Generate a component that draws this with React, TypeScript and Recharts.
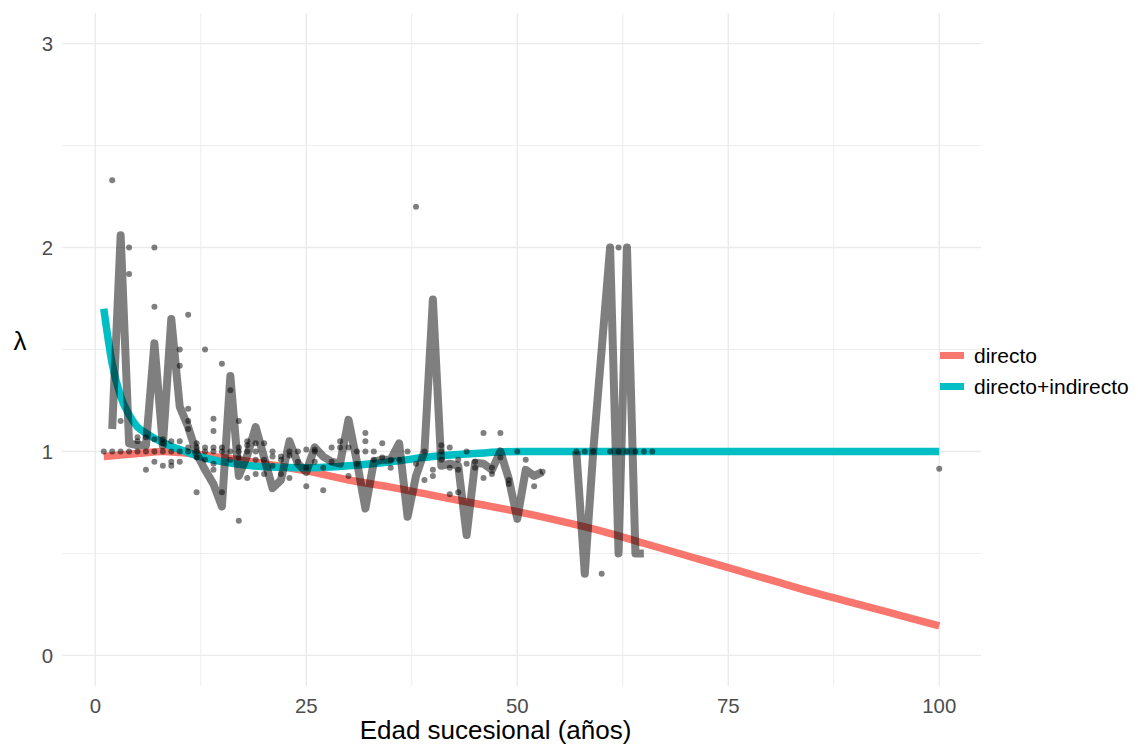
import React from 'react';
import { ComposedChart, Line, Scatter, XAxis, YAxis, CartesianGrid } from 'recharts';

const FONT = '"Liberation Sans", Arial, Helvetica, sans-serif';

const xTicks = [0, 25, 50, 75, 100];
const yTicks = [0, 1, 2, 3];
const xMinor = [12.5, 37.5, 62.5, 87.5];
const yMinor = [0.5, 1.5, 2.5];

const seriesNames = ['directo', 'directo+indirecto'];
const seriesColors = ['#F8766D', '#00BFC4'];

// red curve: "directo"
const directoAge = [1, 5, 8, 10, 15, 20, 25, 30, 35, 40, 45, 50, 55, 60, 65, 70, 75, 80, 85, 90, 95, 100];
const directoLambda = [0.975, 0.99, 1.0, 0.995, 0.97, 0.94, 0.905, 0.86, 0.825, 0.785, 0.745, 0.705, 0.66, 0.61, 0.55, 0.49, 0.43, 0.37, 0.31, 0.255, 0.2, 0.145];

// teal curve: "directo+indirecto"
const indirectoAge = [1, 2, 3, 4, 5, 6, 7, 8, 9, 10, 12, 15, 20, 25, 30, 35, 40, 45, 50, 55, 60, 70, 80, 90, 100];
const indirectoLambda = [1.7, 1.43, 1.27, 1.18, 1.12, 1.09, 1.065, 1.045, 1.025, 1.01, 0.98, 0.95, 0.925, 0.92, 0.93, 0.95, 0.975, 0.99, 1.0, 1.0, 1.0, 1.0, 1.0, 1.0, 1.0];

// gray observed line, first segment
const obsAgeA = [2, 3, 4, 5, 6, 7, 8, 9, 10, 11, 12, 13, 14, 15, 16, 17, 18, 19, 20, 21, 22, 23, 24, 25, 26, 27, 28, 29, 30, 31, 32, 33, 34, 35, 36, 37, 38, 39, 40, 41, 42, 43, 44, 45, 46, 47, 48, 49, 50, 51, 52, 53];
const obsLambdaA = [1.11, 2.06, 1.04, 1.03, 1.03, 1.53, 1.03, 1.65, 1.22, 1.12, 0.99, 0.91, 0.84, 0.73, 1.37, 0.88, 0.98, 1.12, 0.97, 0.82, 0.86, 1.05, 0.94, 0.9, 1.02, 0.975, 0.95, 0.94, 1.155, 0.95, 0.72, 0.95, 0.96, 0.96, 1.04, 0.68, 0.88, 1.0, 1.745, 0.93, 0.94, 0.93, 0.59, 0.945, 0.94, 0.91, 1.0, 0.865, 0.67, 0.91, 0.88, 0.9];

// gray observed line, second segment
const obsAgeB = [57, 58, 59, 61, 62, 63, 64, 65];
const obsLambdaB = [1.0, 0.4, 1.0, 2.0, 0.5, 2.0, 0.5, 0.5];

// scatter points
const pointAge = [
  1, 2, 2, 3, 3, 4, 4, 4, 5, 5, 5, 6, 6, 6,
  7, 7, 7, 7, 7, 8, 8, 8, 8, 9, 9, 9, 9,
  10, 10, 10, 10, 10, 11, 11, 11, 11, 11, 11,
  12, 12, 12, 12, 12, 13, 13, 13, 13, 14, 14, 14, 14, 14, 14,
  15, 15, 15, 15, 16, 16, 16, 17, 17, 17, 17, 17, 18, 18, 18, 18,
  19, 19, 19, 19, 20, 20, 20, 21, 21, 21, 22, 22, 22, 23, 23, 23,
  24, 24, 25, 25, 25, 26, 26, 26, 27, 27, 28, 28, 29, 29, 30, 30,
  31, 31, 32, 32, 32, 33, 33, 34, 34, 35, 35, 36, 37, 38, 38, 39, 39,
  40, 40, 41, 41, 41, 42, 42, 42, 43, 43, 43, 44, 44, 45, 45, 46, 46,
  47, 47, 48, 48, 49, 49, 50, 51, 52, 53,
  57, 58, 59, 60, 61, 62, 62, 63, 64, 65, 66, 100,
];
const pointLambda = [
  1.0, 1.0, 2.33, 1.0, 1.15, 1.0, 2.0, 1.87, 1.0, 1.07, 1.05, 1.0, 1.07, 0.91,
  1.0, 2.0, 1.71, 1.06, 0.95, 1.0, 1.06, 1.04, 0.93, 1.0, 1.05, 0.95, 0.93,
  1.0, 1.5, 1.42, 1.05, 0.95, 1.0, 1.67, 1.21, 1.15, 1.11, 1.02,
  1.0, 1.04, 1.02, 0.97, 0.8, 1.0, 1.5, 1.02, 0.96, 1.0, 1.16, 1.1, 1.02, 0.94, 0.91,
  1.0, 1.43, 1.02, 0.8, 1.0, 1.3, 0.96, 1.0, 1.15, 1.02, 0.97, 0.66, 1.0, 1.05, 1.03, 0.87,
  1.0, 1.04, 0.96, 0.89, 1.04, 0.96, 0.89, 1.0, 0.975, 0.93, 0.975, 0.96, 0.89, 1.0, 0.98, 0.87,
  1.0, 0.95, 1.01, 0.92, 0.83, 1.01, 1.0, 0.95, 0.92, 0.81, 1.02, 0.95, 1.05, 1.02, 1.02, 0.88,
  1.0, 0.94, 1.09, 1.05, 1.0, 1.0, 0.96, 1.04, 0.97, 0.96, 0.92, 0.96, 1.0, 2.2, 0.94, 1.0, 0.86,
  0.91, 0.88, 1.03, 1.0, 0.96, 1.02, 0.92, 0.79, 0.96, 0.91, 0.8, 1.0, 0.94, 0.95, 0.92, 1.09, 0.87,
  0.92, 0.89, 1.09, 0.97, 0.86, 0.84, 1.0, 0.96, 0.83, 0.9,
  1.0, 1.0, 1.0, 0.4, 1.0, 1.0, 2.0, 1.0, 1.0, 1.0, 1.0, 0.915,
];

const zip = (xs: number[], ys: number[]) => xs.map((x, i) => ({ x, y: ys[i] }));

const directoData = zip(directoAge, directoLambda);
const indirectoData = zip(indirectoAge, indirectoLambda);
const obsDataA = zip(obsAgeA, obsLambdaA);
const obsDataB = zip(obsAgeB, obsLambdaB);
const pointData = zip(pointAge, pointLambda);

const tickStyle = { fill: '#4D4D4D', fontSize: 20.4, fontFamily: FONT };

const Dot = (p: any) => <circle cx={p.cx} cy={p.cy} r={3} fill="#000" fillOpacity={0.5} />;

export default function App() {
  return (
    <div style={{ position: 'absolute', left: 0, top: 0, width: 1138, height: 753, background: '#fff', fontFamily: FONT }}>
      <ComposedChart width={1138} height={753} margin={{ top: 13, right: 157, bottom: 0, left: 10 }}>
        <CartesianGrid horizontalValues={yMinor} verticalValues={xMinor} stroke="#EBEBEB" strokeWidth={0.9} />
        <CartesianGrid horizontalValues={yTicks} verticalValues={xTicks} stroke="#EBEBEB" strokeWidth={1.4} />
        <XAxis
          type="number"
          dataKey="x"
          domain={[-3.95, 104.95]}
          allowDataOverflow
          ticks={xTicks}
          interval={0}
          axisLine={false}
          tickLine={false}
          tickSize={0}
          tickMargin={13}
          height={67}
          tick={tickStyle}
          label={{
            content: (props: any) => {
              const vb = props.viewBox;
              return (
                <text x={vb.x + vb.width / 2 - 26} y={vb.y + 53} textAnchor="middle" fontSize={26} fill="#000" fontFamily={FONT}>
                  Edad sucesional (años)
                </text>
              );
            },
          }}
        />
        <YAxis
          type="number"
          dataKey="y"
          domain={[-0.15, 3.15]}
          allowDataOverflow
          ticks={yTicks}
          interval={0}
          axisLine={false}
          tickLine={false}
          tickSize={0}
          tickMargin={9}
          width={52}
          tick={tickStyle}
          label={{
            content: (props: any) => {
              const vb = props.viewBox;
              return (
                <text x={vb.x + 10} y={vb.y + 337} textAnchor="middle" fontSize={26} fill="#000" fontFamily={FONT}>
                  λ
                </text>
              );
            },
          }}
        />
        <Line data={directoData} dataKey="y" type="monotone" stroke={seriesColors[0]} strokeWidth={7.5} dot={false} activeDot={false} isAnimationActive={false} />
        <Line data={indirectoData} dataKey="y" type="monotone" stroke={seriesColors[1]} strokeWidth={7.5} dot={false} activeDot={false} isAnimationActive={false} />
        <Line data={obsDataA} dataKey="y" type="linear" stroke="rgba(0,0,0,0.5)" strokeWidth={8} strokeLinejoin="round" dot={false} activeDot={false} isAnimationActive={false} />
        <Line data={obsDataB} dataKey="y" type="linear" stroke="rgba(0,0,0,0.5)" strokeWidth={8} strokeLinejoin="round" dot={false} activeDot={false} isAnimationActive={false} />
        <Scatter data={pointData} dataKey="y" shape={Dot} isAnimationActive={false} />
      </ComposedChart>
      <div style={{ position: 'absolute', left: 940, top: 340 }}>
        {seriesNames.map((name, i) => (
          <div key={name} style={{ display: 'flex', alignItems: 'center', height: 31 }}>
            <div style={{ width: 24, height: 6.5, background: seriesColors[i] }} />
            <span style={{ marginLeft: 10, fontSize: 21, color: '#000', fontFamily: FONT, lineHeight: '31px' }}>{name}</span>
          </div>
        ))}
      </div>
    </div>
  );
}
